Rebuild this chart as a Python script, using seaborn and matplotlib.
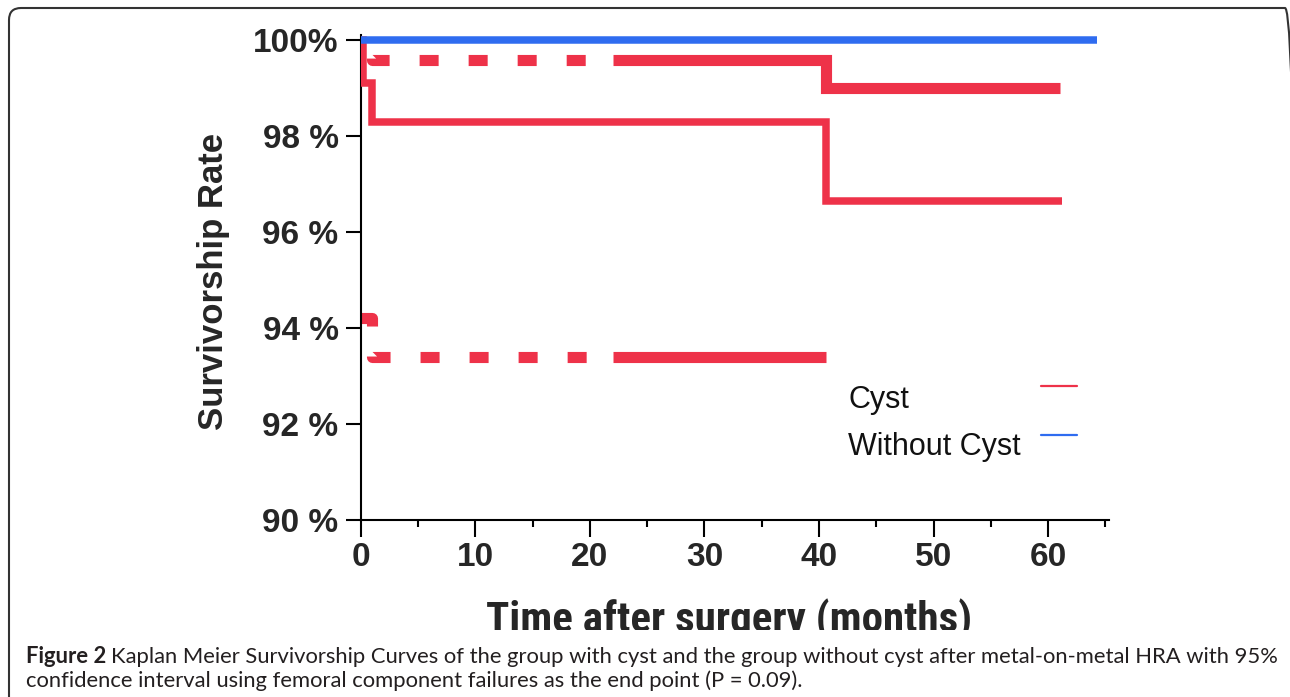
import numpy as np
import pandas as pd
import matplotlib
matplotlib.use("Agg")
import matplotlib.pyplot as plt
import seaborn as sns
from matplotlib import font_manager
from matplotlib.lines import Line2D
from matplotlib.patches import FancyBboxPatch
from matplotlib.transforms import Bbox, IdentityTransform, TransformedBbox

# Kaplan-Meier survival (%) by time after surgery (months)
cyst_time = [0, 0.2, 1.0, 40.6, 61.2]
cyst_surv = [100, 99.1, 98.3, 96.65, 96.65]
no_cyst_time = [0, 64.3]
no_cyst_surv = [100, 100]

# 95% confidence interval of the cyst group
upper_time = [0, 1.0, 40.6, 61.0]
upper_ci = [99.85, 99.58, 99.0, 99.0]
lower_time = [0, 1.0, 40.6]
lower_ci = [94.2, 93.4, 93.4]

groups = ["Cyst", "Without Cyst"]
x_ticks = [0, 10, 20, 30, 40, 50, 60]
y_ticks = [90, 92, 94, 96, 98, 100]
y_tick_labels = ["90 %", "92 %", "94 %", "96 %", "98 %", "100%"]

RED = "#ee3249"
BLUE = "#2f6cf0"
CI_SOLID_FROM = 22  # CI lines drawn dashed before this month, solid after
W, H = 1290, 697


def split_steps(t, v, at):
    t = np.asarray(t, float)
    v = np.asarray(v, float)
    k = np.searchsorted(t, at, side="right")
    val = v[k - 1]
    first = pd.DataFrame({"t": np.append(t[:k], at), "v": np.append(v[:k], val)})
    second = pd.DataFrame({"t": np.insert(t[k:], 0, at), "v": np.insert(v[k:], 0, val)})
    return first, second


def narrow_family():
    names = {f.name for f in font_manager.fontManager.ttflist}
    for fam in ["Liberation Sans Narrow", "Arial Narrow", "Roboto Condensed", "Open Sans Condensed"]:
        if fam in names:
            return fam, True
    return "Liberation Sans", False


sns.set_style("ticks")
plt.rcParams["lines.scale_dashes"] = False

fig = plt.figure(figsize=(W / 100, H / 100), dpi=100)
ax = fig.add_axes([360.8 / W, 177 / H, 748 / W, 485 / H])

# confidence interval lines (dashed, then solid)
dash = (13.7, 21.6)
for t, v, offset in [(upper_time, upper_ci, 19.4), (lower_time, lower_ci, 0)]:
    dashed, solid = split_steps(t, v, CI_SOLID_FROM)
    sns.lineplot(data=dashed, x="t", y="v", color=RED, linewidth=8, linestyle=(offset, dash),
                 drawstyle="steps-post", estimator=None, sort=False, ax=ax,
                 dash_capstyle="butt", zorder=2)
    sns.lineplot(data=solid, x="t", y="v", color=RED, linewidth=8,
                 drawstyle="steps-post", estimator=None, sort=False, ax=ax,
                 solid_capstyle="butt", solid_joinstyle="miter", zorder=2)

km = pd.DataFrame({
    "time": cyst_time + no_cyst_time,
    "surv": cyst_surv + no_cyst_surv,
    "group": [groups[0]] * len(cyst_time) + [groups[1]] * len(no_cyst_time),
})
sns.lineplot(data=km, x="time", y="surv", hue="group", hue_order=groups,
             palette=[RED, BLUE], estimator=None, sort=False, drawstyle="steps-post",
             linewidth=5.4, legend=False, ax=ax,
             solid_capstyle="butt", solid_joinstyle="miter", zorder=3)

ax.set_xlim(0, 65.3)
ax.set_ylim(90, 100.104)
ax.set_xlabel("")
ax.set_ylabel("")
sns.despine(ax=ax)
for side in ["left", "bottom"]:
    ax.spines[side].set_linewidth(1.5)
    ax.spines[side].set_color("black")

tick_font = dict(family="Liberation Sans", weight="bold", size=24)
ax.set_xticks(x_ticks)
ax.set_xticklabels([str(x) for x in x_ticks], fontdict=tick_font)
ax.set_xticks(np.arange(5, 66, 10), minor=True)
ax.set_yticks(y_ticks)
ax.set_yticklabels(y_tick_labels, fontdict=tick_font)
ax.tick_params(axis="x", which="major", length=12, width=1.5, pad=4, color="black")
ax.tick_params(axis="x", which="minor", length=5, width=1.5, color="black")
ax.tick_params(axis="y", length=11, width=1.5, pad=5, color="black")

# axis titles
fig.text(213 / W, 1 - 281 / H, "Survivorship Rate", rotation=90, ha="center", va="center",
         family="Liberation Sans", weight="bold", size=25)
fam, is_narrow = narrow_family()
xl = fig.text(729 / W, 1 - 599 / H, "Time after surgery (months)", ha="center", va="top",
              family=fam, weight="bold", size=31)
if not is_narrow:
    # no condensed face installed: shrink to the same overall width
    fig.canvas.draw()
    w = xl.get_window_extent(fig.canvas.get_renderer()).width
    xl.set_fontsize(31 * 472 / w)
xl.set_clip_box(TransformedBbox(Bbox([[0, H - 630], [W, H]]), IdentityTransform()))
xl.set_clip_on(True)

# legend: label on the left, line sample on the right
for name, color, base, ly in [(groups[0], RED, 408, 386), (groups[1], BLUE, 455, 435)]:
    fig.text(848 / W, 1 - base / H, name, va="baseline", ha="left",
             family="Liberation Sans", size=22, color="#111111")
    fig.add_artist(Line2D([1041 / W, 1077 / W], [1 - ly / H, 1 - ly / H], color=color, lw=1.6))

# caption
cap = dict(family="Lato", size=15.8, color="#231f20", va="baseline")
t1 = fig.text(26 / W, 1 - 663 / H, "Figure 2", weight="bold", **cap)
fig.canvas.draw()
x1 = t1.get_window_extent(fig.canvas.get_renderer()).x1
fig.text((x1 + 5) / W, 1 - 663 / H,
         "Kaplan Meier Survivorship Curves of the group with cyst and the group without cyst "
         "after metal-on-metal HRA with 95%", **cap)
fig.text(26 / W, 1 - 687 / H,
         "confidence interval using femoral component failures as the end point (P = 0.09).", **cap)

# rounded frame around the figure
fig.add_artist(FancyBboxPatch((9, -40), 1297 - 9, H - 8 + 40,
                              boxstyle="round,pad=0,rounding_size=12",
                              transform=IdentityTransform(), fill=False,
                              lw=1.5, ec="#333333"))

fig.savefig("out.png", dpi=100)
